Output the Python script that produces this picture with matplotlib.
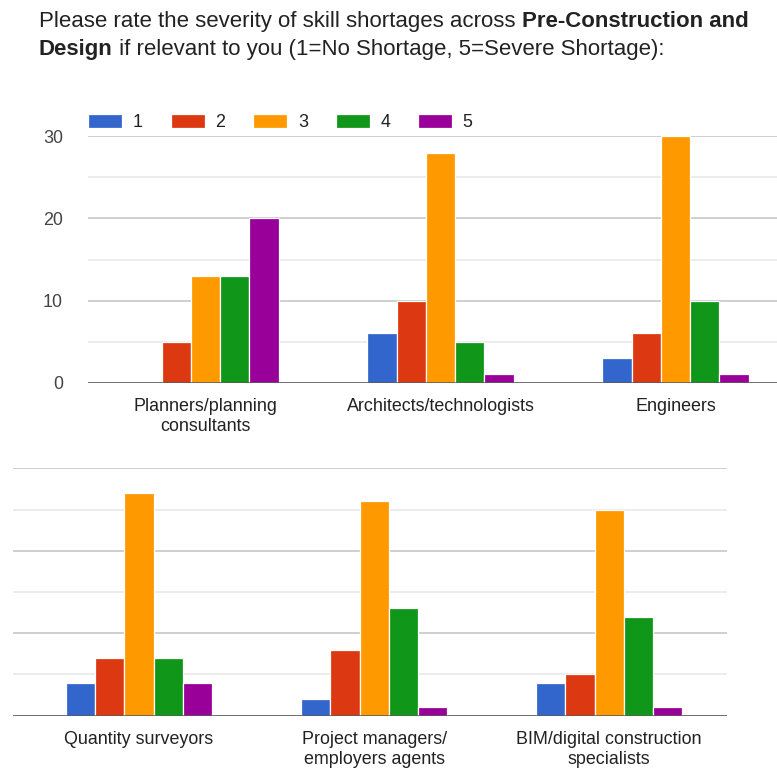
import numpy as np
import matplotlib
matplotlib.use("Agg")
import matplotlib.pyplot as plt

plt.rcParams['font.family'] = ['Liberation Sans', 'DejaVu Sans']

# survey counts per rating (1..5) for each role
ratings = ["1", "2", "3", "4", "5"]
colors = ["#3366cc", "#dc3912", "#ff9900", "#109618", "#990099"]

top_roles = ["Planners/planning\nconsultants", "Architects/technologists", "Engineers"]
top_counts = [
    [0, 6, 3],     # 1
    [5, 10, 6],    # 2
    [13, 28, 30],  # 3
    [13, 5, 10],   # 4
    [20, 1, 1],    # 5
]

bottom_roles = ["Quantity surveyors", "Project managers/\nemployers agents",
                "BIM/digital construction\nspecialists"]
bottom_counts = [
    [4, 2, 4],     # 1
    [7, 8, 5],     # 2
    [27, 26, 25],  # 3
    [7, 13, 12],   # 4
    [4, 1, 1],     # 5
]

W, H = 777, 769
fig = plt.figure(figsize=(W / 100, H / 100), dpi=100)


def px_axes(left, top, right, bottom):
    return fig.add_axes([left / W, 1 - bottom / H, (right - left) / W, (bottom - top) / H])


def draw_panel(ax, roles, counts, xlim, pitch):
    x = np.arange(len(roles))
    for i, vals in enumerate(counts):
        ax.bar(x + (i - 2) * pitch, vals, width=pitch, color=colors[i],
               edgecolor="white", linewidth=0.9, label=ratings[i], zorder=3)
    ax.set_xlim(*xlim)
    ax.set_ylim(0, 30)
    ax.set_yticks([0, 10, 20, 30])
    ax.set_yticks([5, 15, 25], minor=True)
    ax.grid(axis="y", which="major", color="#cccccc", linewidth=1.3, zorder=0)
    ax.grid(axis="y", which="minor", color="#ebebeb", linewidth=1.3, zorder=0)
    ax.axhline(0, color="#555555", linewidth=1.8, zorder=4)
    for s in ax.spines.values():
        s.set_visible(False)
    ax.set_xticks(x)
    ax.set_xticklabels(roles, fontsize=12.9, color="#222222", linespacing=1.2)
    ax.tick_params(axis="x", length=0, pad=11)
    ax.tick_params(axis="y", which="both", length=0)
    ax.set_axisbelow(True)


ax1 = px_axes(88, 136.3, 777, 382.7)
draw_panel(ax1, top_roles, top_counts, (-0.5, 2.432), 0.1247)
ax1.tick_params(axis="y", labelsize=12.9, labelcolor="#444444", pad=18)

ax2 = px_axes(13, 468.3, 726.7, 715.7)
draw_panel(ax2, bottom_roles, bottom_counts, (-0.536, 2.5), 0.124)
ax2.set_yticklabels([])

# legend row above the top panel
ax1.legend(loc="lower left", bbox_to_anchor=(88 / W, 1 - 131 / H),
           bbox_transform=fig.transFigure, ncol=5, frameon=False,
           fontsize=12.9, handlelength=1.9, handleheight=0.85,
           handletextpad=0.6, columnspacing=1.55, borderpad=0,
           borderaxespad=0, labelcolor="#222222")

# title: plain text with bold fragments
tc = "#222222"
fs = 16.0
t1 = fig.text(39 / W, 1 - 27.3 / H, "Please rate the severity of skill shortages across ",
              fontsize=fs, color=tc, va="baseline", ha="left")
fig.canvas.draw()
t2 = fig.text(0, 0, "Pre-Construction and", fontsize=fs, color=tc,
              fontweight="bold", va="baseline", ha="left")
bb = t1.get_window_extent()
t2.set_position((bb.x1 / W, 1 - 27.3 / H))

t3 = fig.text(39 / W, 1 - 55 / H, "Design", fontsize=fs, color=tc,
              fontweight="bold", va="baseline", ha="left")
fig.canvas.draw()
bb = t3.get_window_extent()
fig.text(bb.x1 / W, 1 - 55 / H, " if relevant to you (1=No Shortage, 5=Severe Shortage):",
         fontsize=fs, color=tc, va="baseline", ha="left")

fig.savefig("out.png", dpi=100, facecolor="white")
